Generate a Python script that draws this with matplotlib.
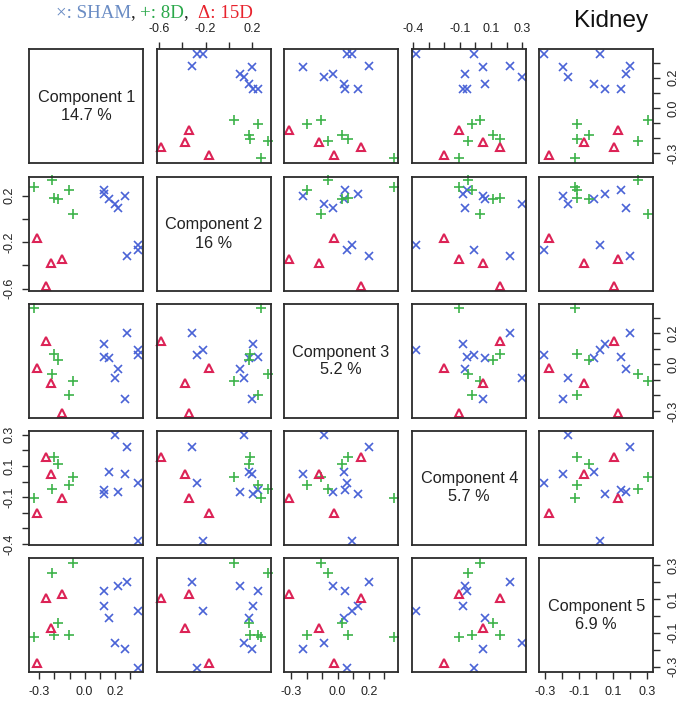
import matplotlib
matplotlib.use("Agg")
import matplotlib.pyplot as plt

# ---- data (PCA component scores) ----
sham_c1 = [0.125, 0.126, 0.158, 0.204, 0.223, 0.268, 0.356, 0.356, 0.279]
sham_c2 = [0.25, 0.21, 0.17, 0.13, 0.097, 0.197, -0.225, -0.27, -0.317]
sham_c3 = [0.046, 0.128, 0.038, -0.091, -0.031, -0.22, 0.092, 0.059, 0.199]
sham_c4 = [-0.053, -0.081, 0.063, 0.30, -0.066, 0.046, -0.383, -0.012, 0.221]
sham_c5 = [0.148, 0.055, -0.013, -0.163, 0.177, -0.194, 0.026, -0.306, 0.202]

d8_c1 = [-0.334, -0.217, -0.202, -0.178, -0.103, -0.078]
d8_c2 = [0.278, 0.336, 0.178, 0.171, 0.25, 0.042]
d8_c3 = [0.361, -0.059, 0.064, 0.030, -0.194, -0.108]
d8_c4 = [-0.103, -0.051, 0.156, 0.111, -0.02, 0.027]
d8_c5 = [-0.124, 0.251, -0.111, -0.042, -0.111, 0.31]

d15_c1 = [-0.314, -0.223, -0.147, -0.257]
d15_c2 = [-0.167, -0.378, -0.343, -0.58]
d15_c3 = [-0.023, -0.117, -0.31, 0.150]
d15_c4 = [-0.2, 0.046, -0.105, 0.156]
d15_c5 = [-0.277, -0.071, 0.128, 0.105]

comp_names = ["Component 1", "Component 2", "Component 3", "Component 4", "Component 5"]
comp_var = ["14.7 %", "16 %", "5.2 %", "5.7 %", "6.9 %"]

tick_vals = [
    [-0.3, -0.2, -0.1, 0.0, 0.1, 0.2, 0.3],
    [-0.6, -0.4, -0.2, 0.0, 0.2],
    [-0.3, -0.2, -0.1, 0.0, 0.1, 0.2, 0.3],
    [-0.4, -0.3, -0.2, -0.1, 0.0, 0.1, 0.2, 0.3],
    [-0.3, -0.2, -0.1, 0.0, 0.1, 0.2, 0.3],
]
tick_shown = [
    ["-0.3", "0.0", "0.2"],
    ["-0.6", "-0.2", "0.2"],
    ["-0.3", "0.0", "0.2"],
    ["-0.4", "-0.1", "0.1", "0.3"],
    ["-0.3", "-0.1", "0.1", "0.3"],
]

# ---- style ----
limits = [(-0.366, 0.388), (-0.62, 0.36), (-0.345, 0.388), (-0.405, 0.326), (-0.333, 0.339)]
col_left = [29.3, 156.7, 284.0, 412.3, 539.3]
row_top = [49.3, 177.0, 304.0, 430.7, 558.3]
PW = 114.0
W, H = 685, 706

C_BLUE = "#4a63d6"
C_GREEN = "#3db34a"
C_RED = "#dc2356"
FRAME = "#2b2b2b"
TXT = "#222222"

groups = [
    ([sham_c1, sham_c2, sham_c3, sham_c4, sham_c5], dict(marker="x", color=C_BLUE, ms=5.5, mew=1.2, ls="none")),
    ([d8_c1, d8_c2, d8_c3, d8_c4, d8_c5], dict(marker="+", color=C_GREEN, ms=7.2, mew=1.2, ls="none")),
    ([d15_c1, d15_c2, d15_c3, d15_c4, d15_c5], dict(marker="^", color=C_RED, mfc="none", ms=5.6, mew=1.5, ls="none")),
]

plt.rcParams["font.family"] = ["Liberation Sans", "DejaVu Sans"]
fig = plt.figure(figsize=(W / 100, H / 100), dpi=100)


def fmt(v):
    s = "%.1f" % v
    if s == "-0.0":
        s = "0.0"
    return s


def tick_labels(k):
    return [fmt(v) if fmt(v) in tick_shown[k] else "" for v in tick_vals[k]]


n = 5
for i in range(n):
    for j in range(n):
        l = col_left[j] / W
        b = (H - row_top[i] - PW) / H
        ax = fig.add_axes([l, b, PW / W, PW / H])
        ax.set_xlim(*limits[j])
        ax.set_ylim(*limits[i])
        for s in ax.spines.values():
            s.set_color(FRAME)
            s.set_linewidth(1.3)
        ax.set_xticks([])
        ax.set_yticks([])
        if i == j:
            ax.text(0.5, 0.5, comp_names[i] + "\n" + comp_var[i], transform=ax.transAxes,
                    ha="center", va="center", fontsize=11.7, color=TXT,
                    multialignment="center", linespacing=1.25)
        else:
            for data, st in groups:
                ax.plot(data[j], data[i], **st, clip_on=False)
        tp = dict(direction="out", length=5, width=1.0, color=FRAME,
                  labelsize=9, labelcolor=TXT, pad=5)
        if i == 0 and j % 2 == 1:
            ax.set_xticks(tick_vals[j])
            ax.set_xticklabels(tick_labels(j))
            ax.tick_params(axis="x", top=True, bottom=False, labeltop=True, labelbottom=False, **tp)
        if i == n - 1 and j % 2 == 0:
            ax.set_xticks(tick_vals[j])
            ax.set_xticklabels(tick_labels(j))
            ax.tick_params(axis="x", top=False, bottom=True, labeltop=False, labelbottom=True, **tp)
        if j == 0 and i % 2 == 1:
            ax.set_yticks(tick_vals[i])
            ax.set_yticklabels(tick_labels(i), rotation=90, va="center")
            ax.tick_params(axis="y", left=True, right=False, labelleft=True, labelright=False, **tp)
        if j == n - 1 and i % 2 == 0:
            ax.set_yticks(tick_vals[i])
            ax.set_yticklabels(tick_labels(i), rotation=90, va="center")
            ax.tick_params(axis="y", left=False, right=True, labelleft=False, labelright=True, **tp)

# ---- legend-like colored title ----
renderer = fig.canvas.get_renderer()
pieces = [("\u00d7: SHAM", "#6a8cc4"), (", ", "#222222"), ("+: 8D", "#2aa84a"),
          (",  ", "#222222"), ("\u0394: 15D", "#e8232d")]
x = 55.7
for txt, col in pieces:
    t = fig.text(x / W, 1 - 13 / H, txt, color=col, fontsize=13.6,
                 family=["Liberation Serif", "DejaVu Serif"], ha="left", va="center")
    bb = t.get_window_extent(renderer=renderer)
    x += bb.width

fig.text(611 / W, 1 - 21 / H, "Kidney", fontsize=17.5, color="#111111",
         family=["Liberation Sans", "DejaVu Sans"], ha="center", va="center")

fig.savefig("out.png", dpi=100)
